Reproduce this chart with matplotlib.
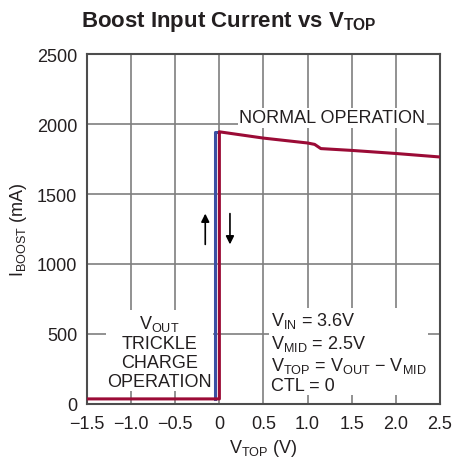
import matplotlib
matplotlib.use('Agg')
import matplotlib.pyplot as plt

plt.rcParams['font.family'] = ['Liberation Sans', 'DejaVu Sans']
plt.rcParams['mathtext.fontset'] = 'custom'
plt.rcParams['mathtext.rm'] = 'Liberation Sans'
plt.rcParams['mathtext.it'] = 'Liberation Sans'
plt.rcParams['mathtext.bf'] = 'Liberation Sans:bold'

# red trace (decreasing V_TOP / normal)
red_x = [-1.5, 0.0, 0.0, 0.5, 1.0, 1.08, 1.15, 1.5, 2.0, 2.5]
red_y = [35, 35, 1945, 1900, 1865, 1855, 1825, 1812, 1790, 1765]
# blue trace (increasing V_TOP)
blue_x = [-0.05, -0.05, 0.0]
blue_y = [35, 1945, 1945]

xticks = [-1.5, -1.0, -0.5, 0, 0.5, 1.0, 1.5, 2.0, 2.5]
xlabels = ['\u22121.5', '\u22121.0', '\u22120.5', '0', '0.5', '1.0', '1.5', '2.0', '2.5']
yticks = [0, 500, 1000, 1500, 2000, 2500]

fig = plt.figure(figsize=(4.68, 4.6), dpi=100)
ax = fig.add_axes([0.186, 0.12, 0.754, 0.76])

ax.plot(blue_x, blue_y, color='#3a4fa3', lw=2.2, zorder=3)
ax.plot(red_x, red_y, color='#9b0b36', lw=2.2, zorder=4)

ax.set_xlim(-1.5, 2.5)
ax.set_ylim(0, 2500)
ax.set_xticks(xticks)
ax.set_xticklabels(xlabels)
ax.set_yticks(yticks)
ax.tick_params(labelsize=13, length=0, colors='#231f20')
ax.tick_params(axis='x', pad=8)
ax.tick_params(axis='y', pad=7)
ax.grid(True, color='#7f7f7f', lw=1.2)
for s in ax.spines.values():
    s.set_color('#4d4d4d')
    s.set_linewidth(1.5)

ax.set_xlabel(r'V$_{\mathregular{TOP}}$ (V)', fontsize=13, color='#231f20', labelpad=4)
ax.set_ylabel(r'I$_{\mathregular{BOOST}}$ (mA)', fontsize=13, color='#231f20', labelpad=6)
fig.text(0.49, 0.952, r'Boost Input Current vs V$_{\mathbf{TOP}}$', fontsize=16,
         fontweight='bold', ha='center', va='center', color='#231f20')

bbox = dict(facecolor='white', edgecolor='none', pad=1)
ax.text(1.28, 2045, 'NORMAL OPERATION', fontsize=13, ha='center', va='center',
        bbox=bbox, zorder=5, color='#231f20')
ax.text(-0.68, 375, r'V$_{\mathregular{OUT}}$' + '\nTRICKLE\nCHARGE\nOPERATION',
        fontsize=13, ha='center', va='center', linespacing=1.15, bbox=bbox,
        zorder=5, color='#231f20')
ax.text(0.58, 370, r'V$_{\mathregular{IN}}$ = 3.6V' + '\n' +
        r'V$_{\mathregular{MID}}$ = 2.5V' + '\n' +
        r'V$_{\mathregular{TOP}}$ = V$_{\mathregular{OUT}}$' + ' \u2212 ' + r'V$_{\mathregular{MID}}$' + '\n' +
        'CTL = 0', fontsize=13, ha='left', va='center', linespacing=1.15,
        bbox=bbox, zorder=5, color='#231f20')

ax.annotate('', xy=(-0.16, 1380), xytext=(-0.16, 1120),
            arrowprops=dict(arrowstyle='-|>', color='black', lw=1.2, mutation_scale=12))
ax.annotate('', xy=(0.12, 1120), xytext=(0.12, 1380),
            arrowprops=dict(arrowstyle='-|>', color='black', lw=1.2, mutation_scale=12))

fig.savefig('out.png', dpi=100)
